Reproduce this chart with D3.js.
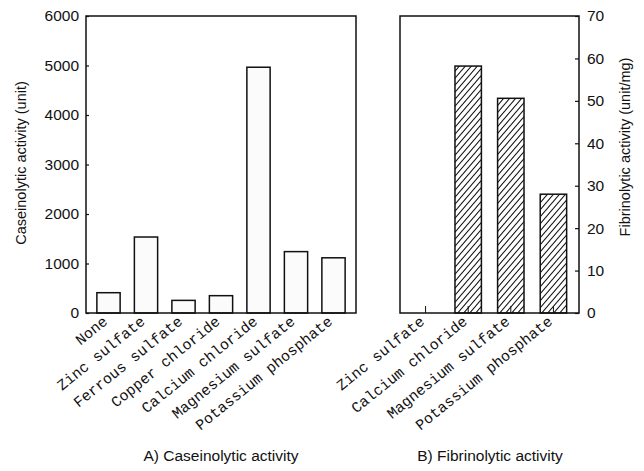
<!DOCTYPE html>
<html>
<head>
<meta charset="utf-8">
<script src="https://cdnjs.cloudflare.com/ajax/libs/d3/7.8.5/d3.min.js"></script>
<style>
  body { margin: 0; background: #fff; }
  svg { display: block; }
  .tick text, .title { font-family: "Liberation Sans", Arial, sans-serif; }
  .cat { font-family: "Liberation Mono", "Courier New", monospace; }
</style>
</head>
<body>
<script>
// data
var caseinCats = ['None', 'Zinc sulfate', 'Ferrous sulfate', 'Copper chloride',
                  'Calcium chloride', 'Magnesium sulfate', 'Potassium phosphate'];
var caseinVals = [410, 1535, 255, 350, 4965, 1240, 1115];
var caseinTicks = [0, 1000, 2000, 3000, 4000, 5000, 6000];

var fibrinCats = ['Zinc sulfate', 'Calcium chloride', 'Magnesium sulfate', 'Potassium phosphate'];
var fibrinVals = [0, 58.2, 50.6, 28.0];
var fibrinTicks = [0, 10, 20, 30, 40, 50, 60, 70];

var width = 644, height = 471;
var plotTop = 16, plotBottom = 313;

var svg = d3.select('body').append('svg')
    .attr('width', width).attr('height', height);

// hatch for the fibrinolytic bars
svg.append('defs').append('pattern')
    .attr('id', 'hatch')
    .attr('patternUnits', 'userSpaceOnUse')
    .attr('width', 6).attr('height', 7)
  .append('path')
    .attr('d', 'M0,7 L6,0 M-1,1 L1,-1 M5,8 L7,6')
    .attr('stroke', '#111').attr('stroke-width', 1.1);

function panel(cats, vals, ticks, x0, x1, side) {
  var x = d3.scaleBand().domain(cats).range([x0, x1])
      .paddingInner(0.38).paddingOuter(0.29);
  var y = d3.scaleLinear().domain([0, ticks[ticks.length - 1]]).range([plotBottom, plotTop]);
  var g = svg.append('g');

  // bottom ticks point inward
  var xa = g.append('g')
      .attr('transform', 'translate(0,' + plotBottom + ')')
      .call(d3.axisBottom(x).tickSizeInner(-7).tickSizeOuter(0).tickFormat(''));
  xa.select('.domain').remove();
  xa.selectAll('line').attr('stroke', '#111');

  var yAxis = side === 'left'
      ? d3.axisLeft(y).tickValues(ticks).tickSizeInner(-3).tickSizeOuter(0).tickPadding(7)
      : d3.axisRight(y).tickValues(ticks).tickSizeInner(-4).tickSizeOuter(0).tickPadding(8);
  yAxis.tickFormat(d3.format('d'));
  var ya = g.append('g')
      .attr('transform', 'translate(' + (side === 'left' ? x0 : x1) + ',0)')
      .call(yAxis);
  ya.select('.domain').remove();
  ya.selectAll('line').attr('stroke', '#111').attr('stroke-width', 1.2);
  ya.selectAll('text').attr('font-size', 15.5).attr('fill', '#111');

  g.selectAll('rect.bar')
      .data(vals)
      .enter().append('rect')
      .attr('class', 'bar')
      .attr('x', function (d, i) { return x(cats[i]); })
      .attr('width', x.bandwidth())
      .attr('y', function (d) { return y(d); })
      .attr('height', function (d) { return plotBottom - y(d); })
      .attr('fill', side === 'left' ? '#fbfbfb' : 'url(#hatch)')
      .attr('stroke', '#111')
      .attr('stroke-width', function (d) { return d > 0 ? 1.5 : 0; });

  g.append('rect')
      .attr('x', x0).attr('y', plotTop)
      .attr('width', x1 - x0).attr('height', plotBottom - plotTop)
      .attr('fill', 'none').attr('stroke', '#111').attr('stroke-width', 1.5);

  g.selectAll('text.cat')
      .data(cats)
      .enter().append('text')
      .attr('class', 'cat')
      .attr('font-size', 15)
      .attr('fill', '#111')
      .attr('text-anchor', 'end')
      .attr('transform', function (d) {
        return 'translate(' + (x(d) + x.bandwidth() / 2) + ',' + (plotBottom + 10) + ') rotate(-39)';
      })
      .text(function (d) { return d; });

  return g;
}

panel(caseinCats, caseinVals, caseinTicks, 86, 356, 'left');
panel(fibrinCats, fibrinVals, fibrinTicks, 400, 579, 'right');

svg.append('text').attr('class', 'title')
    .attr('transform', 'translate(26,163) rotate(-90)')
    .attr('text-anchor', 'middle').attr('font-size', 14.5).attr('fill', '#111')
    .text('Caseinolytic activity (unit)');

svg.append('text').attr('class', 'title')
    .attr('transform', 'translate(630,147) rotate(-90)')
    .attr('text-anchor', 'middle').attr('font-size', 14.5).attr('fill', '#111')
    .text('Fibrinolytic activity (unit/mg)');

svg.append('text').attr('class', 'title')
    .attr('x', 221).attr('y', 461)
    .attr('text-anchor', 'middle').attr('font-size', 15.5).attr('fill', '#111')
    .text('A) Caseinolytic activity');

svg.append('text').attr('class', 'title')
    .attr('x', 490).attr('y', 461)
    .attr('text-anchor', 'middle').attr('font-size', 15.5).attr('fill', '#111')
    .text('B) Fibrinolytic activity');
</script>
</body>
</html>
